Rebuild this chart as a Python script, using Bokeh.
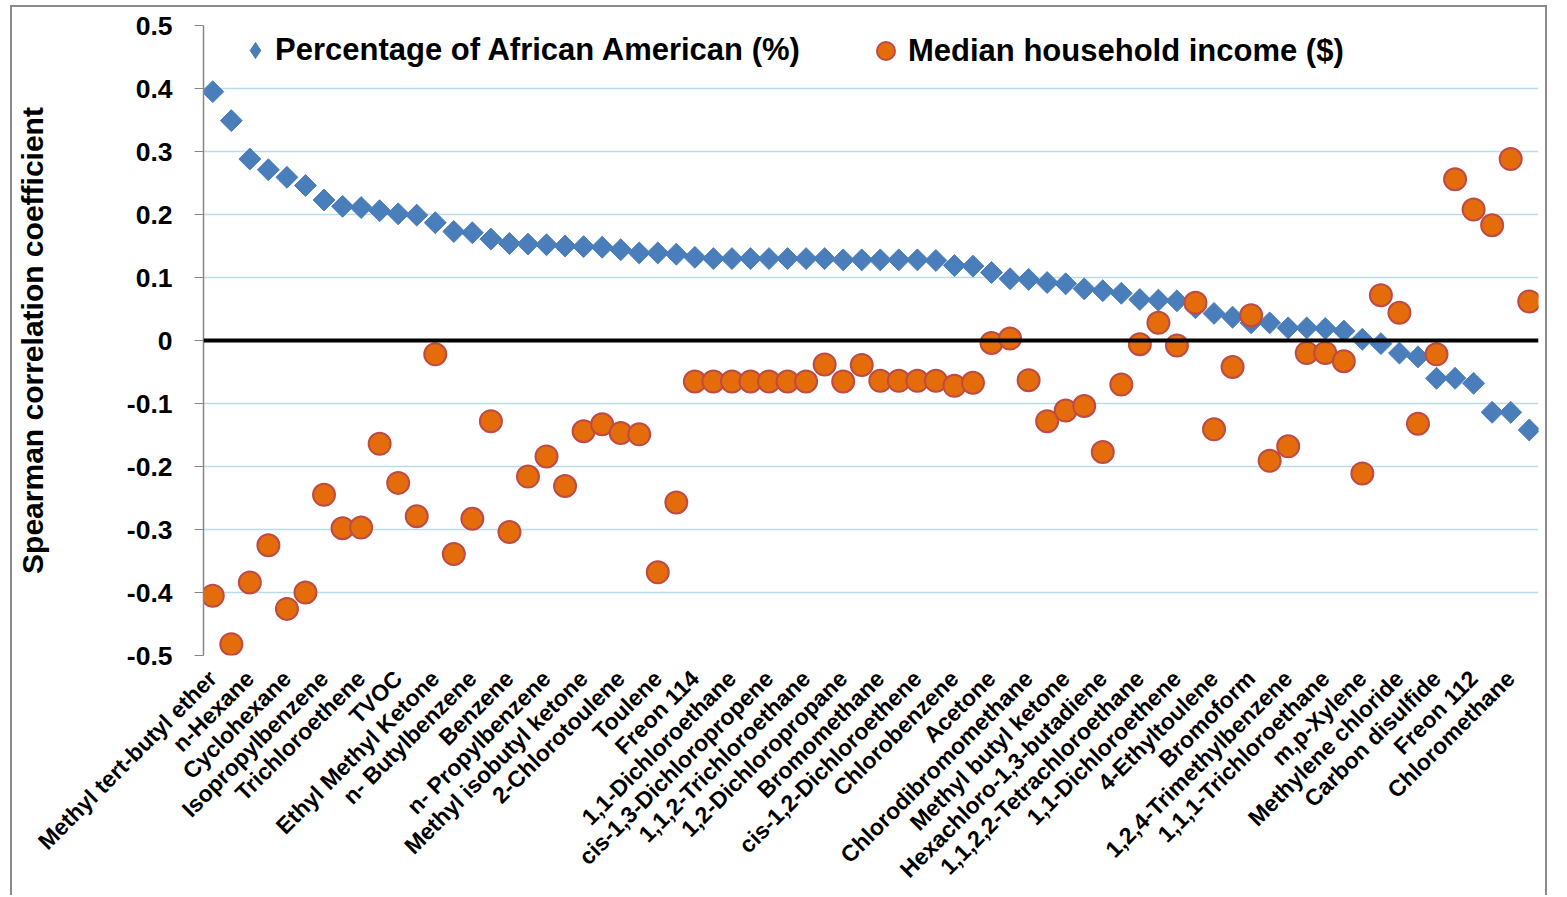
from math import pi
from bokeh.plotting import figure
from bokeh.models import Range1d, FixedTicker, Span, Legend, LegendItem, ColumnDataSource
from bokeh.embed import file_html
from bokeh.resources import INLINE

# ---- data ----
tick_labels = [
    "Methyl tert-butyl ether", "n-Hexane", "Cyclohexane", "Isopropylbenzene",
    "Trichloroethene", "TVOC", "Ethyl Methyl Ketone", "n- Butylbenzene", "Benzene",
    "n- Propylbenzene", "Methyl isobutyl ketone", "2-Chlorotoulene", "Toulene",
    "Freon 114", "1,1-Dichloroethane", "cis-1,3-Dichloropropene",
    "1,1,2-Trichloroethane", "1,2-Dichloropropane", "Bromomethane",
    "cis-1,2-Dichloroethene", "Chlorobenzene", "Acetone", "Chlorodibromomethane",
    "Methyl butyl ketone", "Hexachloro-1,3-butadiene", "1,1,2,2-Tetrachloroethane",
    "1,1-Dichloroethene", "4-Ethyltoulene", "Bromoform", "1,2,4-Trimethylbenzene",
    "1,1,1-Trichloroethane", "m,p-Xylene", "Methylene chloride", "Carbon disulfide",
    "Freon 112", "Chloromethane",
]

pct_african_american = [
    0.395, 0.349, 0.288, 0.271, 0.259, 0.246, 0.223, 0.213, 0.211, 0.206,
    0.201, 0.199, 0.187, 0.173, 0.171, 0.161, 0.154, 0.153, 0.152, 0.150,
    0.149, 0.148, 0.144, 0.139, 0.139, 0.137, 0.132, 0.130, 0.130, 0.130,
    0.130, 0.130, 0.130, 0.130, 0.128, 0.128, 0.128, 0.128, 0.128, 0.127,
    0.119, 0.118, 0.108, 0.098, 0.097, 0.092, 0.090, 0.082, 0.079, 0.075,
    0.065, 0.064, 0.063, 0.052, 0.043, 0.037, 0.028, 0.028, 0.020, 0.020,
    0.019, 0.015, 0.002, -0.005, -0.020, -0.026, -0.060, -0.060, -0.068, -0.114,
    -0.114, -0.142,
]

median_household_income = [
    -0.405, -0.482, -0.384, -0.325, -0.426, -0.400, -0.245, -0.298, -0.297, -0.164,
    -0.226, -0.279, -0.022, -0.339, -0.283, -0.128, -0.304, -0.216, -0.184, -0.231,
    -0.144, -0.133, -0.147, -0.149, -0.368, -0.257, -0.065, -0.065, -0.065, -0.065,
    -0.065, -0.065, -0.065, -0.038, -0.065, -0.039, -0.064, -0.064, -0.064, -0.064,
    -0.072, -0.067, -0.004, 0.003, -0.063, -0.128, -0.111, -0.104, -0.177, -0.070,
    -0.006, 0.028, -0.008, 0.060, -0.141, -0.042, 0.040, -0.191, -0.168, -0.020,
    -0.020, -0.033, -0.211, 0.072, 0.044, -0.132, -0.022, 0.256, 0.208, 0.183,
    0.288, 0.062,
]

y_ticks = [0.5, 0.4, 0.3, 0.2, 0.1, 0.0, -0.1, -0.2, -0.3, -0.4, -0.5]
y_tick_labels = ["0.5", "0.4", "0.3", "0.2", "0.1", "0", "-0.1", "-0.2", "-0.3", "-0.4", "-0.5"]

series_names = ["Percentage of African American (%)", "Median household income ($)"]
y_title = "Spearman correlation coefficient"

# ---- build ----
n = len(pct_african_american)
src = ColumnDataSource(dict(
    x=list(range(n)),
    aa=pct_african_american,
    inc=median_household_income,
))

FONT = "Liberation Sans"
BLUE = "#4A7EBB"
ORANGE = "#E46C0A"
ORANGE_EDGE = "#BE4B48"
GRID = "#B7DDEA"

p = figure(
    width=1537, height=890,
    x_range=Range1d(-0.5, n - 0.5), y_range=Range1d(-0.5, 0.5),
    output_backend="svg", toolbar_location=None,
    min_border_left=191, min_border_right=11, min_border_top=18, min_border_bottom=242,
)
p.margin = (5, 0, 0, 10)
p.styles = {"border-left": "2px solid #8a8a8a", "border-top": "2px solid #8a8a8a",
            "border-right": "2px solid #8a8a8a"}
p.outline_line_color = None
p.background_fill_color = "white"
p.border_fill_color = "white"

# grid
p.xgrid.grid_line_color = None
p.ygrid.grid_line_color = GRID
p.ygrid.grid_line_width = 1.5

# y axis
yax = p.yaxis[0]
yax.ticker = FixedTicker(ticks=y_ticks)
yax.major_label_overrides = {t: l for t, l in zip(y_ticks, y_tick_labels)}
yax.axis_line_color = "#868686"
yax.axis_line_width = 1.5
yax.major_tick_line_color = "#868686"
yax.major_tick_out = 9
yax.major_tick_in = 0
yax.minor_tick_line_color = None
yax.major_label_text_font = FONT
yax.major_label_text_font_style = "bold"
yax.major_label_text_font_size = "26.5px"
yax.major_label_text_color = "black"
yax.major_label_standoff = 22
yax.axis_label = y_title
yax.axis_label_text_font = FONT
yax.axis_label_text_font_style = "bold"
yax.axis_label_text_font_size = "30px"
yax.axis_label_text_color = "black"
yax.axis_label_standoff = 75

# x axis
xax = p.xaxis[0]
xax.ticker = FixedTicker(ticks=[2 * k for k in range(len(tick_labels))])
xax.major_label_overrides = {2 * k: lab for k, lab in enumerate(tick_labels)}
xax.major_label_orientation = pi / 4
xax.axis_line_color = None
xax.major_tick_line_color = None
xax.minor_tick_line_color = None
xax.major_label_text_font = FONT
xax.major_label_text_font_style = "bold"
xax.major_label_text_font_size = "23px"
xax.major_label_text_color = "black"
xax.major_label_standoff = 13

# zero line
p.add_layout(Span(location=0, dimension="width", line_color="black", line_width=4))

r_aa = p.scatter("x", "aa", source=src, marker="square", angle=pi / 4, size=15.5,
                 fill_color=BLUE, line_color=BLUE, line_width=1)
r_inc = p.scatter("x", "inc", source=src, marker="circle", size=22,
                  fill_color=ORANGE, line_color=ORANGE_EDGE, line_width=2)
# legend-only glyph (diamond shape for the key)
r_aa_key = p.scatter("x", "aa", source=src, marker="diamond", size=16,
                     fill_color=BLUE, line_color=BLUE, visible=False)

def make_legend(label, rend, loc, box):
    lg = Legend(items=[LegendItem(label=label, renderers=[rend])], location=loc,
                orientation="horizontal", padding=0, margin=0, spacing=0,
                glyph_width=box, glyph_height=box, label_height=box, label_standoff=0,
                border_line_color=None, background_fill_alpha=0)
    lg.label_text_font = FONT
    lg.label_text_font_style = "bold"
    lg.label_text_font_size = "31px"
    lg.label_text_color = "black"
    return lg

p.add_layout(make_legend(series_names[0], r_aa_key, (32, 585), 40))
p.add_layout(make_legend(series_names[1], r_inc, (660, 582), 45))

open("out.html", "w").write(file_html(p, INLINE))
